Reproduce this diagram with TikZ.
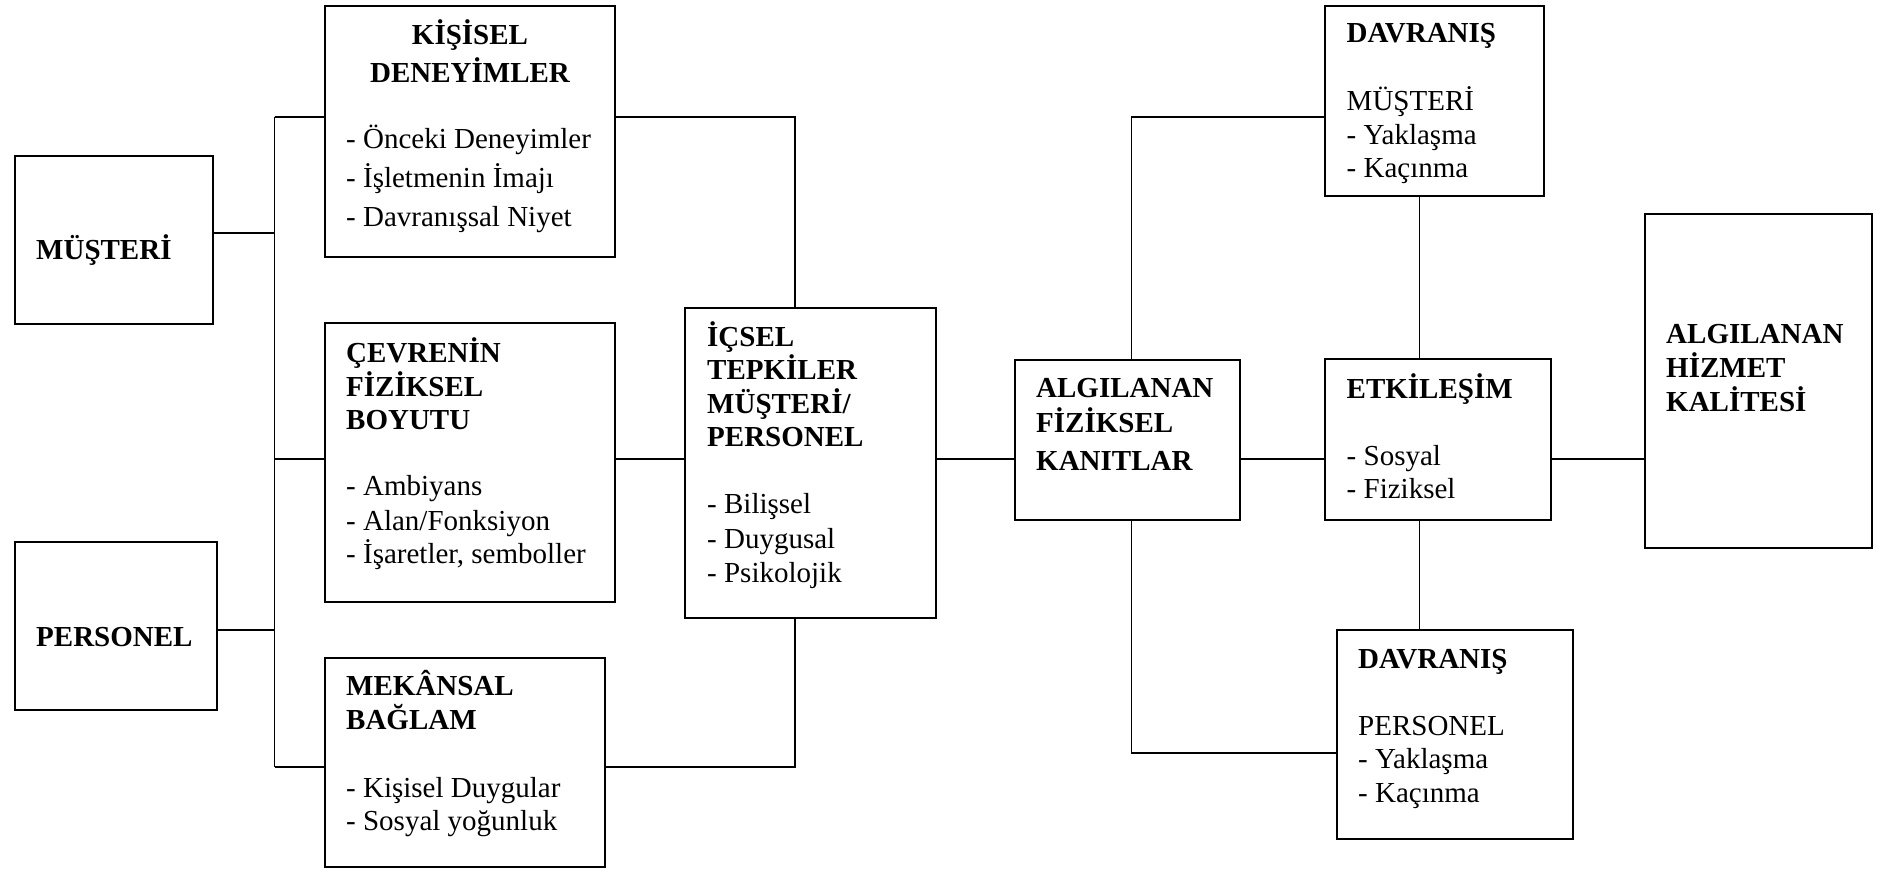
\documentclass[tikz,border=0pt]{standalone}
\usepackage{fontspec}
\setmainfont{Liberation Serif}
\begin{document}
\begin{tikzpicture}[x=1pt,y=-1pt,
  box/.style={draw, line width=2pt, rectangle, inner sep=0pt},
  wire/.style={line width=1.8pt},
  thinwire/.style={line width=1.5pt},
  body/.style={anchor=base west, inner sep=0pt, font=\fontsize{29}{34}\selectfont},
  head/.style={body, font=\bfseries\fontsize{29}{34}\selectfont},
  headc/.style={head, anchor=base},
]
\useasboundingbox[fill=white] (0,0) rectangle (1897,872);

% boxes
\node[box, minimum width=198.5, minimum height=168] (mus) at (113.75,240) {};
\node[box, minimum width=202.5, minimum height=168] (per) at (115.75,626) {};
\node[box, minimum width=290, minimum height=251] (kis) at (470,131.5) {};
\node[box, minimum width=290, minimum height=279] (cev) at (470,462.5) {};
\node[box, minimum width=280, minimum height=209] (mek) at (465,762.5) {};
\node[box, minimum width=250.5, minimum height=310] (ics) at (810.25,463) {};
\node[box, minimum width=224.5, minimum height=160] (afk) at (1127.25,440) {};
\node[box, minimum width=218.7, minimum height=190] (dav1) at (1434.35,101) {};
\node[box, minimum width=226, minimum height=161] (etk) at (1438,439.5) {};
\node[box, minimum width=226.6, minimum height=334] (hiz) at (1758.7,381) {};
\node[box, minimum width=236.4, minimum height=209] (dav2) at (1455.2,734.5) {};

% texts
\node[head] (tmus) at (36,259) {MÜŞTERİ};
\node[head] (tper) at (36,646) {PERSONEL};

\node[headc] (kh1) at (470,45) {KİŞİSEL};
\node[headc] (kh2) at (470,83) {DENEYİMLER};
\node[body] (kb1) at (346,148) {- Önceki Deneyimler};
\node[body] (kb2) at (346,187) {- İşletmenin İmajı};
\node[body] (kb3) at (346,226) {- Davranışsal Niyet};

\node[head] (ch1) at (346,362) {ÇEVRENİN};
\node[head] (ch2) at (346,396) {FİZİKSEL};
\node[head] (ch3) at (346,429) {BOYUTU};
\node[body] (cb1) at (346,495) {- Ambiyans};
\node[body] (cb2) at (346,530) {- Alan/Fonksiyon};
\node[body] (cb3) at (346,563) {- İşaretler, semboller};

\node[head] (mh1) at (346,695) {MEKÂNSAL};
\node[head] (mh2) at (346,729) {BAĞLAM};
\node[body] (mb1) at (346,797) {- Kişisel Duygular};
\node[body] (mb2) at (346,830) {- Sosyal yoğunluk};

\node[head] (ih1) at (707,346) {İÇSEL};
\node[head] (ih2) at (707,379) {TEPKİLER};
\node[head] (ih3) at (707,413) {MÜŞTERİ/};
\node[head] (ih4) at (707,446) {PERSONEL};
\node[body] (ib1) at (707,513) {- Bilişsel};
\node[body] (ib2) at (707,548) {- Duygusal};
\node[body] (ib3) at (707,582) {- Psikolojik};

\node[head] (ah1) at (1036,397) {ALGILANAN};
\node[head] (ah2) at (1036,432) {FİZİKSEL};
\node[head] (ah3) at (1036,470) {KANITLAR};

\node[head] (d1h) at (1346.5,43) {DAVRANIŞ};
\node[body] (d1a) at (1346.5,111) {MÜŞTERİ};
\node[body] (d1b) at (1346.5,144) {- Yaklaşma};
\node[body] (d1c) at (1346.5,177) {- Kaçınma};

\node[head] (eh) at (1346.5,398) {ETKİLEŞİM};
\node[body] (eb1) at (1346.5,465) {- Sosyal};
\node[body] (eb2) at (1346.5,498) {- Fiziksel};

\node[head] (hh1) at (1666,343) {ALGILANAN};
\node[head] (hh2) at (1666,377) {HİZMET};
\node[head] (hh3) at (1666,411) {KALİTESİ};

\node[head] (d2h) at (1358,668) {DAVRANIŞ};
\node[body] (d2a) at (1358,735) {PERSONEL};
\node[body] (d2b) at (1358,768) {- Yaklaşma};
\node[body] (d2c) at (1358,802) {- Kaçınma};

% junction points
\coordinate (bt) at (274.5,117);
\coordinate (bb) at (274.5,767);
\coordinate (jm) at (274.5,233);
\coordinate (jp) at (274.5,630);
\coordinate (jc) at (274.5,459);
\coordinate (it) at (795,117);
\coordinate (ib) at (795,767);
\coordinate (at) at (1131.5,117);
\coordinate (ab) at (1131.5,753);
\coordinate (ev) at (1419.6,459);

% connectors
\draw[wire] (mus.east |- jm) -- (jm);
\draw[wire] (per.east |- jp) -- (jp);
\draw[wire] (bt) -- (bb);
\draw[wire] (bt) -- (kis.west |- bt);
\draw[wire] (jc) -- (cev.west |- jc);
\draw[wire] (bb) -- (mek.west |- bb);
\draw[wire] (kis.east |- it) -- (it) -- (ics.north -| it);
\draw[wire] (mek.east |- ib) -- (ib) -- (ics.south -| ib);
\draw[wire] (cev.east |- jc) -- (ics.west |- jc);
\draw[wire] (ics.east |- jc) -- (afk.west |- jc);
\draw[wire] (afk.east |- jc) -- (etk.west |- jc);
\draw[wire] (etk.east |- jc) -- (hiz.west |- jc);
\draw[wire] (afk.north -| at) -- (at) -- (dav1.west |- at);
\draw[wire] (afk.south -| ab) -- (ab) -- (dav2.west |- ab);
\draw[thinwire] (dav1.south -| ev) -- (etk.north -| ev);
\draw[thinwire] (etk.south -| ev) -- (dav2.north -| ev);
\end{tikzpicture}
\end{document}
